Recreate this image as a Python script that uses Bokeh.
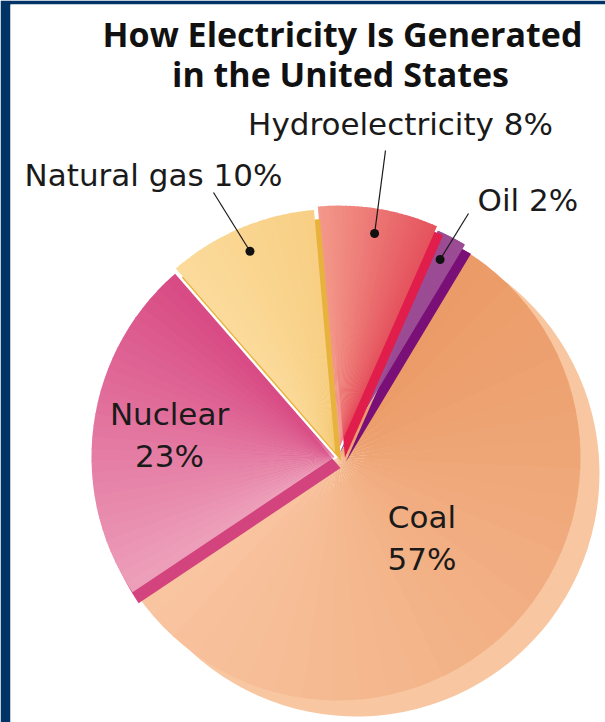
import math
import numpy as np
from bokeh.plotting import figure
from bokeh.models import Range1d
from bokeh.core.properties import value
from bokeh.embed import file_html
from bokeh.resources import INLINE

# ---------------- data ----------------
sources = ["Coal", "Nuclear", "Natural gas", "Hydroelectricity", "Oil"]
shares = [57, 23, 10, 8, 2]
title_lines = ["How Electricity Is Generated", "in the United States"]

# ---------------- style / layout ----------------
W, H = 605, 722
BL, BT = 10, 4                       # navy frame (left, top)
# shading of each slice's top face: colour at its clockwise end -> colour at its anticlockwise end
shade_lo = ["#f9c5a1", "#d84a84", "#f8cf84", "#e5525d", "#9b4c94"]
shade_hi = ["#eb9a66", "#eda0ba", "#fbdb9c", "#f3998a", "#9b4c94"]
side_colors = ["#f8c7a2", "#d3437e", "#e8b33c", "#e01d4b", "#7a0f78"]
explode = [0, 3, 6, 9, 5]            # px, along mid angle
side_shift = [(19, 16), (6, 11), (6, 9), (6, 9), (6, 9)]   # px (right, down)
CX, CY = 337, 457                    # pie centre (px)
R = 243
START = 59.0                         # degrees, boundary oil/coal; slices run clockwise
STEPS = 30
LABEL_FONT = "DejaVu Sans"
TITLE_FONT = "Open Sans"
TXT_SHIFT = 11                       # baseline correction (px)


def dx(px):
    return px - BL


def dy(py):
    return H - py


def hex2rgb(h):
    return np.array([int(h[k:k + 2], 16) for k in (1, 3, 5)], dtype=float)


def mix(c1, c2, t):
    a, b = hex2rgb(c1), hex2rgb(c2)
    c = np.round(a + (b - a) * t).astype(int)
    return "#%02x%02x%02x" % tuple(c)


p = figure(width=W, height=H, x_range=Range1d(0, W - BL), y_range=Range1d(0, H - BT),
           min_border_left=BL, min_border_top=BT, min_border_right=0, min_border_bottom=0,
           border_fill_color="#003366", background_fill_color="white",
           outline_line_color=None, toolbar_location=None, output_backend="svg",
           x_axis_location=None, y_axis_location=None)
p.grid.visible = False

vals = np.array(shares, dtype=float)
spans = vals / vals.sum() * 360.0
hi = START - np.concatenate([[0], np.cumsum(spans)[:-1]])
lo = hi - spans
mid = (hi + lo) / 2.0

cx_list, cy_list = [], []
for i in range(len(sources)):
    a = math.radians(mid[i])
    cx_list.append(dx(CX) + explode[i] * math.cos(a))
    cy_list.append(dy(CY) + explode[i] * math.sin(a))

# draw order: coal, then oil -> hydro -> gas -> nuclear
order = [0, 4, 3, 2, 1]
for i in order:
    sx, sy = side_shift[i]
    # side face
    p.wedge(x=cx_list[i] + sx, y=cy_list[i] - sy, radius=R,
            start_angle=math.radians(lo[i]), end_angle=math.radians(hi[i]),
            fill_color=side_colors[i], line_color=None)
    # top face, shaded in thin steps
    edges = np.linspace(lo[i], hi[i], STEPS + 1)
    cols = [mix(shade_lo[i], shade_hi[i], (k + 0.5) / STEPS) for k in range(STEPS)]
    p.wedge(x=[cx_list[i]] * STEPS, y=[cy_list[i]] * STEPS, radius=R,
            start_angle=np.radians(edges[:-1]),
            end_angle=np.radians(np.minimum(edges[1:] + 0.3, hi[i])),
            fill_color=cols, line_color=None)

# ---------------- title ----------------
p.text(x=[dx(342), dx(340)], y=[dy(46 - 13), dy(86 - 13)], text=title_lines,
       text_font=value(TITLE_FONT), text_font_style="bold", text_font_size="34px",
       text_align="center", text_baseline="alphabetic", text_color="#111111")

# ---------------- inside labels (Coal, Nuclear) ----------------
inside = {0: 0.48, 1: 0.685}
for i, frac in inside.items():
    a = math.radians(mid[i])
    lx = cx_list[i] + frac * R * math.cos(a)
    ly = cy_list[i] + frac * R * math.sin(a)
    p.text(x=[lx, lx], y=[ly + 10 + TXT_SHIFT, ly - 32 + TXT_SHIFT],
           text=[sources[i], f"{shares[i]}%"],
           text_font=value(LABEL_FONT), text_font_size="31px",
           text_align="center", text_baseline="alphabetic", text_color="#1a1a1a")

# ---------------- outside labels with leaders ----------------
# leader end (px), label anchor (px), alignment
outside = {
    2: ((213, 192), (153, 185), "center"),
    3: ((385, 150), (400, 134), "center"),
    4: ((468, 213), (477, 210), "left"),
}
DOT_R = 218
for i, (lend, lpos, align) in outside.items():
    a = math.radians(mid[i])
    x0 = cx_list[i] + DOT_R * math.cos(a)
    y0 = cy_list[i] + DOT_R * math.sin(a)
    p.segment(x0=[x0], y0=[y0], x1=[dx(lend[0])], y1=[dy(lend[1])],
              line_color="#1a1a1a", line_width=1.2)
    p.scatter(x=[x0], y=[y0], size=9, fill_color="#111111", line_color=None)
    p.text(x=[dx(lpos[0])], y=[dy(lpos[1]) + TXT_SHIFT], text=[f"{sources[i]} {shares[i]}%"],
           text_font=value(LABEL_FONT), text_font_size="31px",
           text_align=align, text_baseline="alphabetic", text_color="#1a1a1a")

open("out.html", "w").write(file_html(p, INLINE))
